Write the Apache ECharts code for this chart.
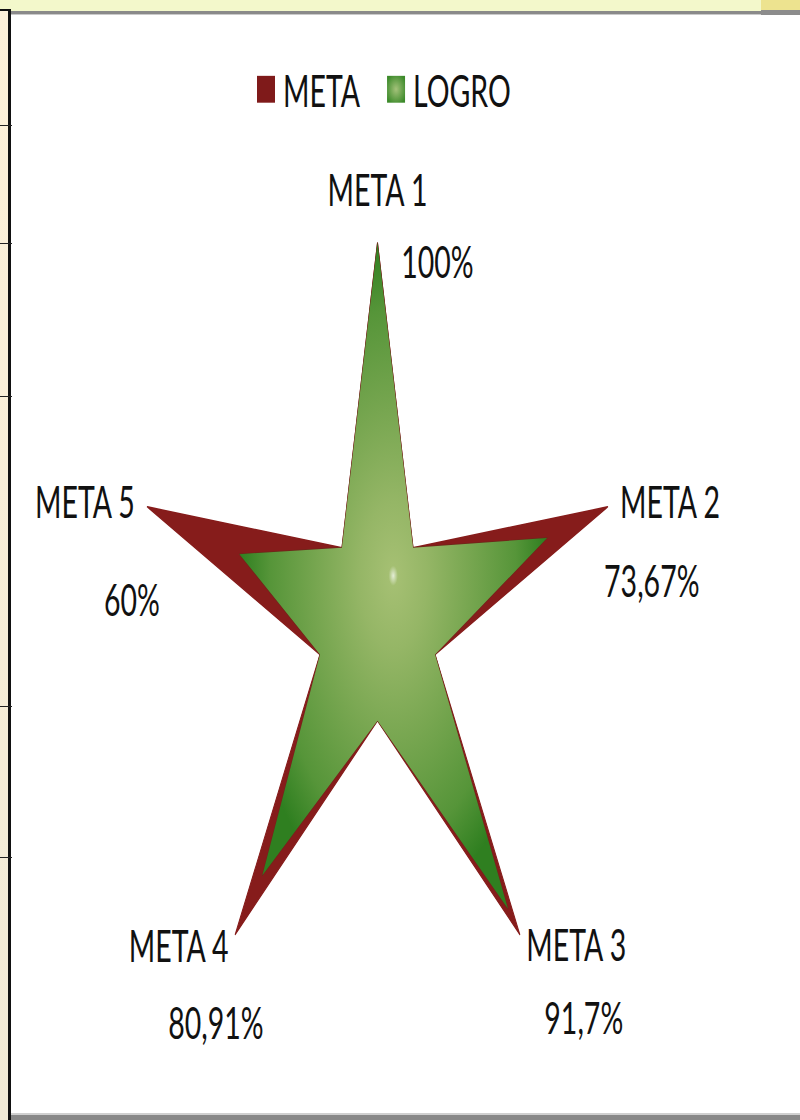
<!DOCTYPE html>
<html><head><meta charset="utf-8">
<script src="https://cdn.jsdelivr.net/npm/echarts@6/dist/echarts.min.js"></script>
<style>
html,body{margin:0;padding:0;background:#fff;}
body{width:800px;height:1120px;position:relative;overflow:hidden;}
#chart{position:absolute;left:0;top:0;width:800px;height:709px;transform:scaleY(1.58);transform-origin:0 0;}
.f{position:absolute;}
</style></head><body>
<div id="chart"></div>
<!-- frame of the surrounding sheet -->
<div class="f" style="left:0;top:0;width:761px;height:11px;background:#F3F8CB"></div>
<div class="f" style="left:761px;top:0;width:39px;height:10px;background:#EDE38F"></div>
<div class="f" style="left:761px;top:10px;width:39px;height:5px;background:#8C8C8C"></div>
<div class="f" style="left:11px;top:11px;width:750px;height:3px;background:#8A8A8A"></div>
<div class="f" style="left:11px;top:14px;width:750px;height:1px;background:#CACACA"></div>
<div class="f" style="left:0;top:11px;width:8px;height:1109px;background:linear-gradient(#FDF1D9,#F1EAD6)"></div>
<div class="f" style="left:0;top:9px;width:11px;height:2px;background:#111"></div>
<div class="f" style="left:8px;top:9px;width:3px;height:1111px;background:#111"></div>
<div class="f" style="left:0;top:125px;width:12px;height:1px;background:#222"></div>
<div class="f" style="left:0;top:243px;width:12px;height:1px;background:#222"></div>
<div class="f" style="left:0;top:396px;width:12px;height:1px;background:#222"></div>
<div class="f" style="left:0;top:706px;width:12px;height:1px;background:#222"></div>
<div class="f" style="left:0;top:857px;width:12px;height:1px;background:#222"></div>
<div class="f" style="left:11px;top:1113px;width:789px;height:2px;background:#D0D0D0"></div>
<div class="f" style="left:11px;top:1115px;width:789px;height:5px;background:#888"></div>
<script>
// ---- data ----
const metas = ['META 1', 'META 2', 'META 3', 'META 4', 'META 5'];
const metaValues = [100, 100, 100, 100, 100];
const logroValues = [100, 73.67, 91.7, 80.91, 60];
// star valleys (between two consecutive metas, clockwise: after META 1, after META 2, ...)
const valleyMeta = [25, 25, 25, 25, 25];
const valleyLogro = [25, 25, 25, 25, 25];
const seriesNames = ['META', 'LOGRO'];

// ---- build (radar runs counter-clockwise from the top) ----
const ccwOrder = [0, 4, 3, 2, 1];
const indicators = [], metaData = [], logroData = [];
ccwOrder.forEach(function (i) {
  indicators.push({ name: metas[i], max: 100 });
  metaData.push(metaValues[i]);
  logroData.push(logroValues[i]);
  const v = (i + 4) % 5;
  indicators.push({ name: '', max: 100 });
  metaData.push(valleyMeta[v]);
  logroData.push(valleyLogro[v]);
});
const pct = v => String(v).replace('.', ',') + '%';

const FONT = 'Lato';
const FS = 28.5;
const TXT = '#111';
const pads = {
  n0: [0, 0, 0, 0],        p0: [17, 0, 24, 120],
  n1: [11, 0, 0, 60],      p1: [21, 0, 0, 44],
  n2: [139, 0, 0, 36],     p2: [17, 0, 0, 54],
  n3: [143, 36, 0, 0],     p3: [20, 1, 0, 0],
  n4: [23, 60, 0, 0],      p4: [33, 35, 0, 0]
};
const rich = {};
Object.keys(pads).forEach(k => {
  rich[k] = { fontFamily: FONT, fontSize: FS, color: TXT, padding: pads[k] };
});

const green = {
  type: 'radial', x: 0.5, y: 0.5, r: 0.5,
  colorStops: [
    { offset: 0, color: '#e4edd6' },
    { offset: 0.03, color: '#a4bf72' },
    { offset: 0.22, color: '#95b666' },
    { offset: 0.5, color: '#77a650' },
    { offset: 0.8, color: '#569539' },
    { offset: 1, color: '#2f7f20' }
  ]
};
const legendGreen = {
  type: 'radial', x: 0.5, y: 0.5, r: 0.6,
  colorStops: [{ offset: 0, color: '#a4c27a' }, { offset: 1, color: '#3c8a2a' }]
};

const chart = echarts.init(document.getElementById('chart'), null, { renderer: 'svg' });
chart.setOption({
  animation: false,
  backgroundColor: 'transparent',
  color: ['#861C1B', '#5e9a3f'],
  legend: {
    left: 257, top: 42, padding: 0,
    icon: 'rect', itemWidth: 18, itemHeight: 17, itemGap: 27,
    textStyle: { fontFamily: FONT, fontSize: FS, color: TXT, padding: [0, 0, 0, 3] },
    data: [
      { name: seriesNames[0], itemStyle: { color: '#7F1A1A' } },
      { name: seriesNames[1], itemStyle: { color: legendGreen } }
    ]
  },
  radar: {
    center: [377.5, 395.6],
    radius: 242,
    startAngle: 90,
    shape: 'polygon',
    axisNameGap: -50,
    indicator: indicators,
    axisLine: { show: false },
    splitLine: { show: false },
    splitArea: { show: false },
    axisTick: { show: false },
    axisLabel: { show: false },
    axisName: {
      fontFamily: FONT, fontSize: FS, color: TXT,
      formatter: function (name) {
        const i = metas.indexOf(name);
        if (i < 0) return '';
        return '{n' + i + '|' + name + '}\n{p' + i + '|' + pct(logroValues[i]) + '}';
      },
      rich: rich
    }
  },
  series: [{
    type: 'radar',
    symbol: 'none',
    silent: true,
    data: [
      { name: seriesNames[0], value: metaData,
        lineStyle: { color: '#861C1B', width: 1 },
        areaStyle: { color: '#861C1B', opacity: 1 },
        itemStyle: { color: '#861C1B' } },
      { name: seriesNames[1], value: logroData,
        lineStyle: { color: '#6a2a1a', width: 0.8 },
        areaStyle: { color: green, opacity: 1 },
        itemStyle: { color: '#5e9a3f' } }
    ]
  }]
});
</script>
</body></html>
